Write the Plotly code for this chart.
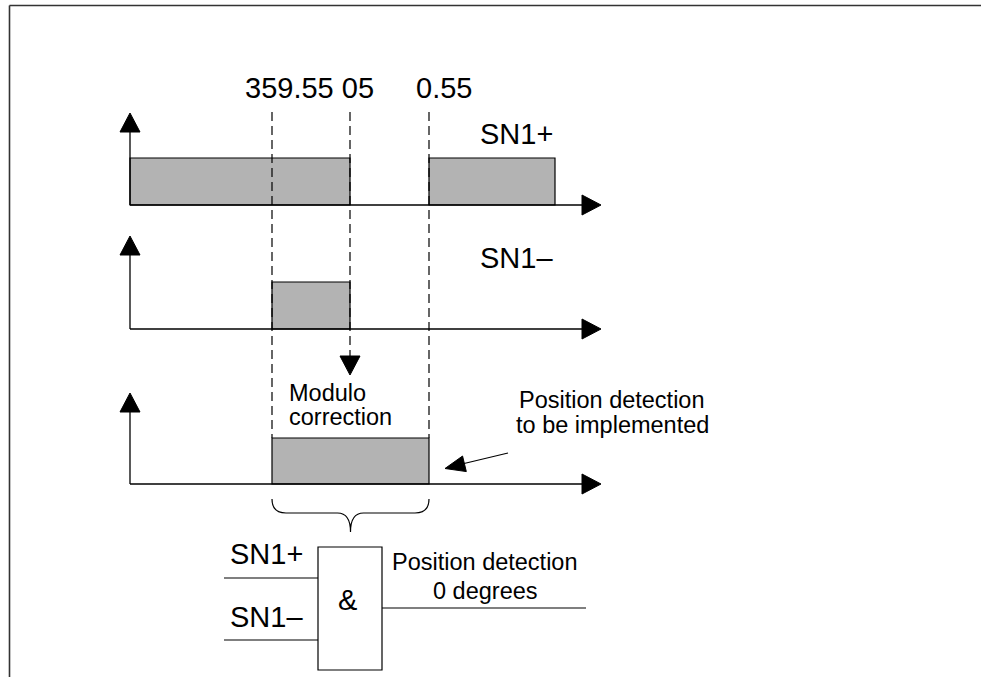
import numpy as np
import plotly.graph_objects as go

# ---------------- data (time axis in arbitrary units, origin at each signal's y-axis) -------------
edge_labels = ["359.55 05", "0.55"]
edge_positions = [142, 220, 299]          # 359.55, 05, 0.55
sn1p_starts = [0, 299]
sn1p_ends = [220, 425]
sn1m_starts = [142]
sn1m_ends = [220]
result_starts = [142]
result_ends = [299]
signal_names = ["SN1+", "SN1\u2013"]
gate_symbol = "&"
output_label = ["Position detection", "0 degrees"]
pointer_label = ["Position detection", "to be implemented"]
correction_label = ["Modulo", "correction"]

# ---------------- layout constants -------------
W, H = 981, 677
X0 = 130                       # pixel of time origin
AX_END = 471                   # x-axis arrow tip (time units)
FONT = "Arial, Liberation Sans, sans-serif"
BIG, SMALL = 29, 23.5
GRAY = "#b3b3b3"

rows = [  # baseline y, bar top y, y-axis arrow tip y
    dict(base=205, top=158, tip=113),
    dict(base=329, top=282, tip=236),
    dict(base=484, top=438, tip=393),
]

def tx(px):  # pixel x -> time units
    return px - X0

fig = go.Figure()
shapes = []
annotations = []

def tri(tipx, tipy, dx, dy, length=19, half=10):
    """filled triangle arrowhead (data coords) pointing along (dx, dy)"""
    v = np.array([dx, dy], float)
    v /= np.linalg.norm(v)
    n = np.array([-v[1], v[0]])
    tip = np.array([tipx, tipy])
    b = tip - v * length
    p1, p2 = b + n * half, b - n * half
    return dict(type="path", xref="x", yref="y",
                path=f"M {tip[0]},{tip[1]} L {p1[0]},{p1[1]} L {p2[0]},{p2[1]} Z",
                fillcolor="black", line=dict(color="black", width=1))

def line(x0, y0, x1, y1, width=1.3, dash=None, color="black"):
    d = dict(type="line", xref="x", yref="y", x0=x0, y0=y0, x1=x1, y1=y1,
             line=dict(color=color, width=width))
    if dash:
        d["line"]["dash"] = dash
    shapes.append(d)

# signal bars via horizontal bar traces
signals = [(sn1p_starts, sn1p_ends), (sn1m_starts, sn1m_ends), (result_starts, result_ends)]
for r, (starts, ends) in zip(rows, signals):
    h = r["base"] - r["top"]
    fig.add_trace(go.Bar(
        orientation="h",
        y=[(r["base"] + r["top"]) / 2] * len(starts),
        x=[e - s for s, e in zip(starts, ends)],
        base=starts,
        width=h,
        marker=dict(color=GRAY, line=dict(color="black", width=1.2)),
        hoverinfo="skip", showlegend=False,
    ))

# axes with arrows
for r in rows:
    line(0, r["base"], AX_END - 19, r["base"])
    shapes.append(tri(AX_END, r["base"], 1, 0, length=19, half=10))
    line(0, r["base"], 0, r["tip"] + 19)
    shapes.append(tri(0, r["tip"], 0, -1, length=19, half=10))

# dashed guide lines
DASH = "9px,5px"
line(edge_positions[0], 112, edge_positions[0], rows[2]["top"], width=1.2, dash=DASH)
line(edge_positions[2], 112, edge_positions[2], rows[2]["top"], width=1.2, dash=DASH)
line(edge_positions[1], 112, edge_positions[1], 357, width=1.2, dash=DASH)
shapes.append(tri(edge_positions[1], 375, 0, 1, length=19, half=10))

# pointer arrow
line(tx(508), 453, tx(462), 464, width=1.2)
shapes.append(tri(tx(445), 468.5, -62, 15, length=20, half=8))

# curly brace
bl, br = edge_positions[0], edge_positions[2]
bc = (bl + br) / 2
shapes.append(dict(type="path", xref="x", yref="y",
                   path=(f"M {bl},499 Q {bl},513 {bl+14},513 L {bc-13},513 "
                         f"Q {bc},513 {bc},532 Q {bc},513 {bc+13},513 "
                         f"L {br-14},513 Q {br},513 {br},499"),
                   line=dict(color="black", width=1.2)))

# AND gate
shapes.append(dict(type="rect", xref="x", yref="y", x0=tx(318), x1=tx(382), y0=547, y1=670,
                   line=dict(color="black", width=1.2), fillcolor="rgba(0,0,0,0)"))
line(tx(224), 578, tx(318), 578, width=1.2)
line(tx(224), 640, tx(318), 640, width=1.2)
line(tx(382), 608, tx(586), 608, width=1.2)

# frame (top and left edges only)
line(tx(9.5), 5.5, tx(W + 5), 5.5, width=1.6, color="#333333")
line(tx(9.5), 5.5, tx(9.5), H + 5, width=1.6, color="#333333")

def text(x, y, s, size, anchor="center"):
    annotations.append(dict(x=x, y=y, xref="x", yref="y", text=s, showarrow=False,
                            xanchor=anchor, yanchor="middle",
                            font=dict(family=FONT, size=size, color="black")))

text(tx(243), 88, edge_labels[0], BIG, "left")
text(tx(414), 88, edge_labels[1], BIG, "left")
text(tx(516), 134, signal_names[0], BIG)
text(tx(516), 258, signal_names[1], BIG)
text(tx(287), 393, correction_label[0], SMALL, "left")
text(tx(287), 417, correction_label[1], SMALL, "left")
text(tx(612), 400, pointer_label[0], SMALL)
text(tx(612), 425, pointer_label[1], SMALL)
text(tx(228), 554, signal_names[0], BIG, "left")
text(tx(228), 617, signal_names[1], BIG, "left")
text(tx(347), 600, gate_symbol, BIG)
text(tx(485), 562, output_label[0], SMALL)
text(tx(485), 591, output_label[1], SMALL)

fig.update_layout(
    width=W, height=H,
    margin=dict(l=0, r=0, t=0, b=0),
    paper_bgcolor="white", plot_bgcolor="white",
    xaxis=dict(range=[-X0, W - X0], visible=False, fixedrange=True,
               showgrid=False, zeroline=False),
    yaxis=dict(range=[H, 0], visible=False, fixedrange=True,
               showgrid=False, zeroline=False),
    shapes=shapes, annotations=annotations,
    bargap=0, barmode="overlay",
)

fig.write_html("out.html",
               config={"displayModeBar": False, "staticPlot": True, "responsive": False},
               post_script=("var gd=document.getElementById('{plot_id}');"
                            "gd.style.position='absolute';gd.style.left='0px';gd.style.top='0px';"))
